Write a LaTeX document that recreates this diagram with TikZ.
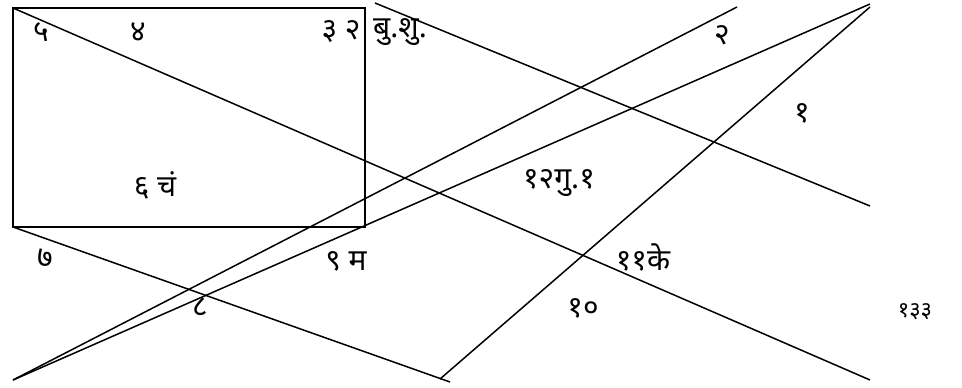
\documentclass[tikz,border=0pt]{standalone}
\usepackage{fontspec}
\newfontfamily\devfont[Script=Devanagari]{Noto Sans}
\usetikzlibrary{positioning}

\begin{document}
\begin{tikzpicture}[
    x=1pt, y=-1pt,
    line/.style={line width=1.5pt},
    lbl/.style={font=\devfont\fontsize{30}{34}\selectfont, inner sep=0pt},
    small/.style={font=\devfont\fontsize{22}{26}\selectfont, inner sep=0pt},
]
\useasboundingbox (0,0) rectangle (962,388);

% Corners and ends
\coordinate (tl) at (13,8);
\coordinate (tr) at (365,8);
\coordinate (bl) at (13,227);
\coordinate (br) at (365,227);
\coordinate (low) at (13,380);
\coordinate (d1) at (870,380);
\coordinate (d2) at (450,382);
\coordinate (s3) at (375,3);
\coordinate (d3) at (870,206);
\coordinate (u4) at (737,7);
\coordinate (u5) at (870,4);
\coordinate (s6) at (440,379);
\coordinate (u6) at (870,7);

% Box
\draw[line] (tl) -- (tr) -- (br) -- (bl) -- cycle;

% Lines
\draw[line] (tl) -- (d1);
\draw[line] (bl) -- (d2);
\draw[line] (s3) -- (d3);
\draw[line] (low) -- (u4);
\draw[line] (low) -- (u5);
\draw[line] (s6) -- (u6);

% Labels
\node[lbl] (h5) at (41,32) {५};
\node[lbl] (h4) at (138,32) {४};
\node[lbl] (h3) at (341,32) {३ २};
\node[lbl] (bs) at (400,32) {बु.शु.};
\node[lbl] (h6) at (155,185) {६ चं};
\node[lbl] (h2) at (722,35) {२};
\node[lbl] (h1) at (802,113) {१};
\node[lbl] (h12) at (559,183) {१२गु.१};
\node[lbl] (h7) at (45,258) {७};
\node[lbl] (h8) at (200,307) {८};
\node[lbl] (h9) at (346,261) {९ म};
\node[lbl] (h11) at (643,257) {११के};
\node[lbl] (h10) at (583,308) {१०};
\node[small] (h13) at (915,312) {१३३};
\end{tikzpicture}
\end{document}
